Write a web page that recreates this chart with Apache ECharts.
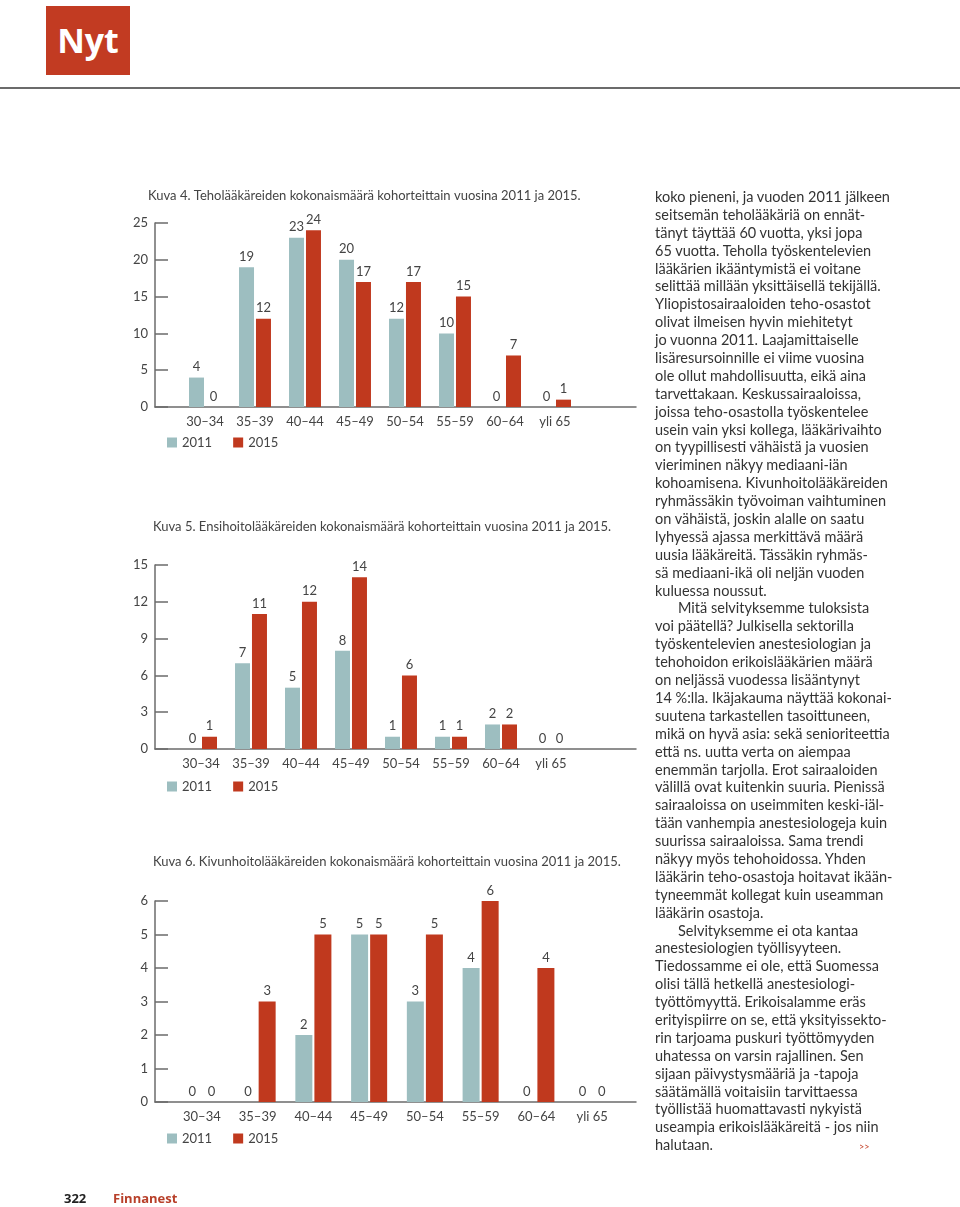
<!DOCTYPE html>
<html>
<head>
<meta charset="utf-8">
<script src="https://cdn.jsdelivr.net/npm/echarts@6/dist/echarts.min.js"></script>
<style>
  html, body { margin: 0; padding: 0; background: #fff; }
  #page { position: relative; width: 960px; height: 1207px; overflow: hidden; font-family: Lato, "Open Sans", sans-serif; }
  #chart { position: absolute; left: 0; top: 0; width: 960px; height: 1207px; }
  #logo { position: absolute; left: 46px; top: 6px; width: 84px; height: 69px; background: #c23b22; color: #fff;
          font-family: "Open Sans", sans-serif; font-weight: 700; font-size: 34px; line-height: 69px; text-align: center; z-index: 2; }
  #rule { position: absolute; left: 0; top: 87px; width: 960px; height: 2px; background: #6b6b6b; z-index: 2; }
  #text { position: absolute; left: 655px; top: 188px; width: 300px; font-size: 14.5px; color: #333; z-index: 2; }
  #text div { height: 17.9px; line-height: 17.9px; white-space: nowrap; }
  #text .ind { padding-left: 23px; }
  #text .arr { color: #c23b22; font-size: 9px; margin-left: 146px; }
  #footer { position: absolute; top: 1189px; font-size: 13px; font-weight: 700; z-index: 2; font-family: "Open Sans", sans-serif; }
</style>
</head>
<body>
<div id="page">
  <div id="chart"></div>
  <div id="logo">Nyt</div>
  <div id="rule"></div>
  <div id="text"></div>
  <div id="footer" style="left:64px;color:#222;">322</div>
  <div id="footer2" style="position:absolute;left:113px;top:1189px;font-size:13px;font-weight:700;color:#b8402a;font-family:'Open Sans',sans-serif;z-index:2;">Finnanest</div>
</div>
<script>
// ---- data ----
const categories = ['30–34', '35–39', '40–44', '45–49', '50–54', '55–59', '60–64', 'yli 65'];
const seriesNames = ['2011', '2015'];

const teho2011 = [4, 19, 23, 20, 12, 10, 0, 0];
const teho2015 = [0, 12, 24, 17, 17, 15, 7, 1];

const ensi2011 = [0, 7, 5, 8, 1, 1, 2, 0];
const ensi2015 = [1, 11, 12, 14, 6, 1, 2, 0];

const kivun2011 = [0, 0, 2, 5, 3, 4, 0, 0];
const kivun2015 = [0, 3, 5, 5, 5, 6, 4, 0];

const titles = [
  'Kuva 4. Teholääkäreiden kokonaismäärä kohorteittain vuosina 2011 ja 2015.',
  'Kuva 5. Ensihoitolääkäreiden kokonaismäärä kohorteittain vuosina 2011 ja 2015.',
  'Kuva 6. Kivunhoitolääkäreiden kokonaismäärä kohorteittain vuosina 2011 ja 2015.'
];
const yMax = [25, 15, 6];
const yInterval = [5, 3, 1];

const articleLines = [
  'koko pieneni, ja vuoden 2011 jälkeen',
  'seitsemän teholääkäriä on ennät-',
  'tänyt täyttää 60 vuotta, yksi jopa',
  '65 vuotta. Teholla työskentelevien',
  'lääkärien ikääntymistä ei voitane',
  'selittää millään yksittäisellä tekijällä.',
  'Yliopistosairaaloiden teho-osastot',
  'olivat ilmeisen hyvin miehitetyt',
  'jo vuonna 2011. Laajamittaiselle',
  'lisäresursoinnille ei viime vuosina',
  'ole ollut mahdollisuutta, eikä aina',
  'tarvettakaan. Keskussairaaloissa,',
  'joissa teho-osastolla työskentelee',
  'usein vain yksi kollega, lääkärivaihto',
  'on tyypillisesti vähäistä ja vuosien',
  'vieriminen näkyy mediaani-iän',
  'kohoamisena. Kivunhoitolääkäreiden',
  'ryhmässäkin työvoiman vaihtuminen',
  'on vähäistä, joskin alalle on saatu',
  'lyhyessä ajassa merkittävä määrä',
  'uusia lääkäreitä. Tässäkin ryhmäs-',
  'sä mediaani-ikä oli neljän vuoden',
  'kuluessa noussut.',
  '>Mitä selvityksemme tuloksista',
  'voi päätellä? Julkisella sektorilla',
  'työskentelevien anestesiologian ja',
  'tehohoidon erikoislääkärien määrä',
  'on neljässä vuodessa lisääntynyt',
  '14 %:lla. Ikäjakauma näyttää kokonai-',
  'suutena tarkastellen tasoittuneen,',
  'mikä on hyvä asia: sekä senioriteettia',
  'että ns. uutta verta on aiempaa',
  'enemmän tarjolla. Erot sairaaloiden',
  'välillä ovat kuitenkin suuria. Pienissä',
  'sairaaloissa on useimmiten keski-iäl-',
  'tään vanhempia anestesiologeja kuin',
  'suurissa sairaaloissa. Sama trendi',
  'näkyy myös tehohoidossa. Yhden',
  'lääkärin teho-osastoja hoitavat ikään-',
  'tyneemmät kollegat kuin useamman',
  'lääkärin osastoja.',
  '>Selvityksemme ei ota kantaa',
  'anestesiologien työllisyyteen.',
  'Tiedossamme ei ole, että Suomessa',
  'olisi tällä hetkellä anestesiologi-',
  'työttömyyttä. Erikoisalamme eräs',
  'erityispiirre on se, että yksityissekto-',
  'rin tarjoama puskuri työttömyyden',
  'uhatessa on varsin rajallinen. Sen',
  'sijaan päivystysmääriä ja -tapoja',
  'säätämällä voitaisiin tarvittaessa',
  'työllistää huomattavasti nykyistä',
  'useampia erikoislääkäreitä - jos niin',
  'halutaan.'
];

// ---- article text ----
const textBox = document.getElementById('text');
articleLines.forEach((ln, i) => {
  const d = document.createElement('div');
  if (ln.startsWith('>')) { d.className = 'ind'; d.textContent = ln.slice(1); }
  else d.textContent = ln;
  if (i === articleLines.length - 1) {
    const s = document.createElement('span'); s.className = 'arr'; s.textContent = '>>'; d.appendChild(s);
  }
  textBox.appendChild(d);
});

// ---- chart ----
const dataSets = [[teho2011, teho2015], [ensi2011, ensi2015], [kivun2011, kivun2015]];
const colors = ['#9dbec0', '#c0391e'];
const layout = [
  { left: 180, width: 400, top: 223, height: 184, barWidth: 15, gap: '13%', titleTop: 189, titleLeft: 148, legendTop: 436 },
  { left: 176, width: 400, top: 565, height: 184, barWidth: 15, gap: '13%', titleTop: 520, titleLeft: 153, legendTop: 780 },
  { left: 174, width: 446, top: 901, height: 201, barWidth: 17, gap: '12%', titleTop: 855, titleLeft: 153, legendTop: 1132 }
];
const frameLeft = 155, frameWidth = 481;
const txt = '#444';
const font = 'Lato';

const grid = [], xAxis = [], yAxis = [], series = [], title = [], legend = [];
layout.forEach((L, k) => {
  grid.push({ left: L.left, width: L.width, top: L.top, height: L.height, containLabel: false });
  grid.push({ left: frameLeft, width: frameWidth, top: L.top, height: L.height, containLabel: false });
  const gMain = 2 * k, gFrame = 2 * k + 1;
  xAxis.push({ type: 'category', gridIndex: gMain, data: categories, axisLine: { show: false }, axisTick: { show: false },
    axisLabel: { color: txt, fontSize: 13, fontFamily: font, margin: 8, interval: 0 } });
  xAxis.push({ type: 'category', gridIndex: gFrame, data: [''], axisLine: { show: true, lineStyle: { color: '#6b6b6b', width: 1.5 } },
    axisTick: { show: false }, axisLabel: { show: false } });
  yAxis.push({ type: 'value', gridIndex: gMain, min: 0, max: yMax[k], interval: yInterval[k], show: false, splitLine: { show: false } });
  yAxis.push({ type: 'value', gridIndex: gFrame, min: 0, max: yMax[k], interval: yInterval[k],
    axisLine: { show: true, lineStyle: { color: '#6b6b6b', width: 1.5 } },
    axisTick: { show: true, inside: true, length: 13, lineStyle: { color: '#6b6b6b', width: 1.5 } },
    axisLabel: { color: txt, fontSize: 13, fontFamily: font, margin: 7 },
    splitLine: { show: false } });
  const xi = 2 * k, yi = 2 * k;
  dataSets[k].forEach((arr, s) => {
    series.push({
      type: 'bar', name: seriesNames[s], xAxisIndex: xi, yAxisIndex: yi, data: arr,
      barWidth: L.barWidth, barGap: L.gap, itemStyle: { color: colors[s] },
      label: { show: true, position: 'top', distance: 4, color: txt, fontSize: 13, fontFamily: font },
      silent: true, animation: false
    });
  });
  title.push({ text: titles[k], left: L.titleLeft, top: L.titleTop,
    textStyle: { color: txt, fontSize: 13, fontWeight: 'normal', fontFamily: font }, padding: 0 });
  legend.push({ data: seriesNames, left: 167, top: L.legendTop, icon: 'rect', itemWidth: 10, itemHeight: 10, itemGap: 21,
    textStyle: { color: txt, fontSize: 13, fontFamily: font }, padding: 0, selectedMode: false });
});

const chart = echarts.init(document.getElementById('chart'), null, { renderer: 'canvas' });
chart.setOption({
  animation: false,
  color: colors,
  textStyle: { fontFamily: font },
  title, legend, grid, xAxis, yAxis, series
});
</script>
</body>
</html>
